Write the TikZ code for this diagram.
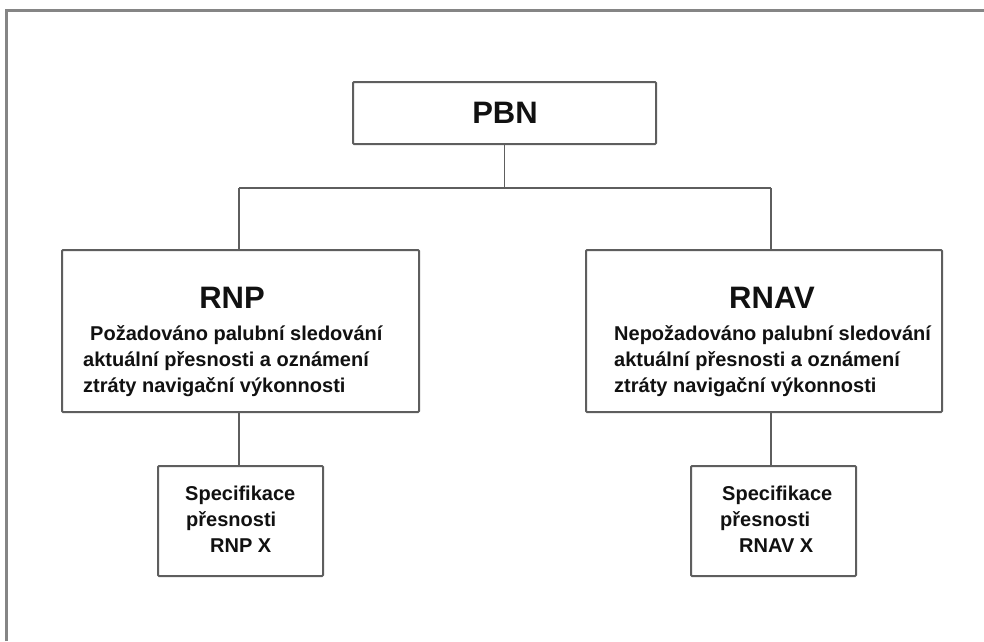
\documentclass[tikz,border=0pt]{standalone}
\usepackage{fontspec}
\setmainfont{Liberation Sans}
\begin{document}
\begin{tikzpicture}[x=1pt,y=-1pt,
  box/.style={draw=boxgray,line width=2pt,fill=white,inner sep=0pt,rounded corners=1pt},
  link/.style={draw=boxgray,line width=1.8pt},
  title/.style={font=\fontsize{31}{31}\selectfont\bfseries,text=ink,inner sep=0pt},
  body/.style={font=\fontsize{20}{26}\selectfont\bfseries,text=ink,inner sep=0pt,anchor=base west}]
\definecolor{boxgray}{HTML}{5E5E5E}
\definecolor{framegray}{HTML}{858585}
\definecolor{ink}{HTML}{111111}
\useasboundingbox (0,0) rectangle (984,641);

% page frame: left and top edges only
\draw[framegray,line width=2.5pt] (6.5,641) -- (6.5,10.5) -- (984,10.5);

% boxes
\node[box,minimum width=303pt,minimum height=62pt] (pbn) at (504.5,113) {};
\node[box,minimum width=357pt,minimum height=162pt] (rnp) at (240.5,331) {};
\node[box,minimum width=356pt,minimum height=162pt] (rnav) at (764,331) {};
\node[box,minimum width=165pt,minimum height=110pt] (specL) at (240.5,521) {};
\node[box,minimum width=165pt,minimum height=110pt] (specR) at (773.5,521) {};

% branching bus
\coordinate (busL) at (239,188);
\coordinate (busR) at (771,188);
\draw[link] (pbn.south) -- (pbn.south |- busL);
\draw[link] (busL) -- (busR);
\draw[link] (busL) -- (busL |- rnp.north);
\draw[link] (busR) -- (busR |- rnav.north);
\draw[link] (specL.north -| busL) -- (busL |- rnp.south);
\draw[link] (specR.north -| busR) -- (busR |- rnav.south);

% titles
\node[title] (tPBN) at (505,113) {PBN};
\node[title] (tRNP) at (232,297.5) {RNP};
\node[title] (tRNAV) at (772,297.5) {RNAV};

% RNP description
\node[body] (r1) at (90,340) {Požadováno palubní sledování};
\node[body] (r2) at (83,366) {aktuální přesnosti a oznámení};
\node[body] (r3) at (83,392) {ztráty navigační výkonnosti};

% RNAV description
\node[body] (n1) at (614,340) {Nepožadováno palubní sledování};
\node[body] (n2) at (614,366) {aktuální přesnosti a oznámení};
\node[body] (n3) at (614,392) {ztráty navigační výkonnosti};

% accuracy specifications
\node[body] (sL1) at (185,500) {Specifikace};
\node[body] (sL2) at (186,526) {přesnosti};
\node[body] (sL3) at (210,552) {RNP X};
\node[body] (sR1) at (722,500) {Specifikace};
\node[body] (sR2) at (720,526) {přesnosti};
\node[body] (sR3) at (739,552) {RNAV X};
\end{tikzpicture}
\end{document}
